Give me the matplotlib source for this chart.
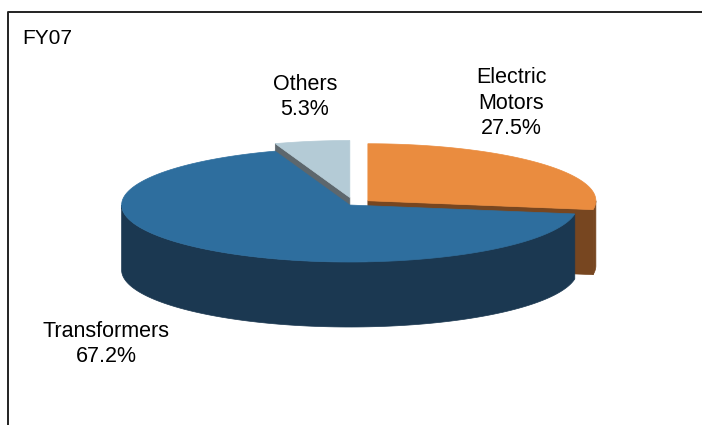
import numpy as np
import matplotlib.pyplot as plt
from matplotlib.patches import Polygon

# data
labels = ["Electric\nMotors", "Transformers", "Others"]
shares = [27.5, 67.2, 5.3]
title = "FY07"

top_colors = ["#EA8C3F", "#2E6E9E", "#B4CBD6"]
side_colors = ["#774620", "#1B3851", "#5D676D"]
explode = [0.08, 0.03, 0.11]
label_pos = [(511, 103), (106, 344), (305, 97)]

plt.rcParams['font.family'] = ['Liberation Sans', 'DejaVu Sans']

fig = plt.figure(figsize=(7.02, 4.25), dpi=100)
ax = fig.add_axes([0, 0, 1, 1])
ax.set_xlim(0, 702)
ax.set_ylim(425, 0)
ax.axis('off')

# frame (only top and left edges show in the crop)
ax.plot([8, 8, 702], [425, 12, 12], color="#222222", lw=1.4, solid_capstyle='butt')
ax.text(22, 38, title, fontsize=15, va='center', ha='left')

# 3d pie geometry
cx, cy = 354, 203.7
rx, ry = 228, 57
depth = 65
start = 90.0


def arc(ox, oy, a1, a2, n=120):
    t = np.radians(np.linspace(a1, a2, n))
    return np.column_stack([ox + rx * np.cos(t), oy - ry * np.sin(t)])


slices = []
cum = 0.0
total = sum(shares)
for i, s in enumerate(shares):
    t2 = start - cum / total * 360
    cum += s
    t1 = start - cum / total * 360
    mid = np.radians((t1 + t2) / 2)
    ox = cx + explode[i] * rx * np.cos(mid)
    oy = cy - explode[i] * ry * np.sin(mid)
    slices.append((np.sin(mid), i, t1, t2, ox, oy))

# back slices first
slices.sort(key=lambda r: -r[0])

for _, i, t1, t2, ox, oy in slices:
    side = side_colors[i]
    # radial cut faces that face the viewer
    for t, vis in ((t1, np.cos(np.radians(t1)) > 1e-6), (t2, np.cos(np.radians(t2)) < -1e-6)):
        if vis:
            p = arc(ox, oy, t, t, 1)[0]
            quad = [(ox, oy), tuple(p), (p[0], p[1] + depth), (ox, oy + depth)]
            ax.add_patch(Polygon(quad, closed=True, facecolor=side, edgecolor=side, lw=0.5))
    # outer wall on the front half
    for k in range(-2, 2):
        lo = max(t1, -180 + 360 * k)
        hi = min(t2, 360 * k)
        if hi > lo:
            top = arc(ox, oy, lo, hi)
            bot = top[::-1].copy()
            bot[:, 1] += depth
            ax.add_patch(Polygon(np.vstack([top, bot]), closed=True,
                                 facecolor=side, edgecolor=side, lw=0.5))
    # top face
    pts = np.vstack([[ox, oy], arc(ox, oy, t1, t2)])
    ax.add_patch(Polygon(pts, closed=True, facecolor=top_colors[i],
                         edgecolor=top_colors[i], lw=0.5))

for i, lab in enumerate(labels):
    x, y = label_pos[i]
    ax.text(x, y, f"{lab}\n{shares[i]:.1f}%", fontsize=15.5, ha='center', va='center',
            linespacing=1.3)

plt.savefig("out.png", dpi=100)
